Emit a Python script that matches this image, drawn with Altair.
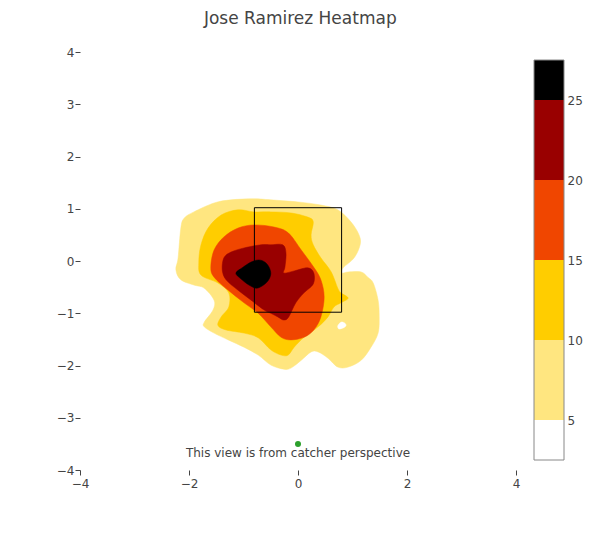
import altair as alt
import pandas as pd

FONT = "DejaVu Sans"
TXT = "#444444"

# ---- contour regions (x, y in plate coordinates) ----
x5 = [-1.23, -0.81, -0.50, 0.00, 0.42, 0.73, 0.97, 1.12, 1.14, 1.03, 0.83, 0.81, 0.92, 1.16, 1.28, 1.38,
      1.47, 1.49, 1.47, 1.34, 1.16, 0.92, 0.73, 0.55, 0.37, 0.24, 0.06, -0.13, -0.26, -0.50, -0.73, -0.99,
      -1.28, -1.54, -1.72, -1.72, -1.56, -1.54, -1.72, -1.91, -2.15, -2.24, -2.20, -2.15, -2.09, -1.91, -1.54]
y5 = [1.17, 1.19, 1.17, 1.13, 1.07, 0.98, 0.75, 0.50, 0.31, 0.06, -0.13, -0.23, -0.21, -0.21, -0.31, -0.42,
      -0.75, -1.07, -1.38, -1.65, -1.90, -2.03, -2.03, -1.86, -1.74, -1.74, -1.90, -2.05, -2.07, -1.99, -1.80, -1.65,
      -1.51, -1.38, -1.26, -1.17, -0.94, -0.75, -0.52, -0.46, -0.36, -0.17, 0.06, 0.63, 0.82, 0.94, 1.11]

x_hole = [0.73, 0.79, 0.86, 0.88, 0.83, 0.75]
y_hole = [-1.24, -1.17, -1.19, -1.24, -1.28, -1.30]

x10 = [-1.41, -1.10, -0.81, -0.50, -0.13, 0.18, 0.28, 0.24, 0.28, 0.42, 0.61, 0.73, 0.79, 0.92, 0.79,
       0.66, 0.55, 0.37, 0.11, -0.07, -0.18, -0.31, -0.50, -0.73, -0.99, -1.32, -1.47, -1.41, -1.27, -1.27,
       -1.47, -1.78, -1.82, -1.78, -1.65]
y10 = [0.88, 0.98, 0.94, 0.94, 0.92, 0.84, 0.75, 0.50, 0.31, 0.06, -0.21, -0.52, -0.61, -0.71, -0.80,
       -0.88, -1.07, -1.26, -1.46, -1.65, -1.80, -1.80, -1.70, -1.47, -1.38, -1.32, -1.23, -1.07, -0.88, -0.61,
       -0.42, -0.27, -0.02, 0.31, 0.63]

x15 = [-1.36, -1.10, -0.81, -0.44, -0.18, 0.06, 0.29, 0.42, 0.48, 0.42, 0.29, 0.11, -0.13, -0.31, -0.50,
       -0.73, -0.99, -1.28, -1.54, -1.60, -1.54]
y15 = [0.46, 0.63, 0.69, 0.65, 0.54, 0.21, -0.12, -0.36, -0.69, -1.07, -1.32, -1.46, -1.51, -1.46, -1.26,
       -1.00, -0.80, -0.56, -0.31, -0.12, 0.21]

x20 = [-1.36, -1.23, -0.99, -0.68, -0.50, -0.28, -0.22, -0.24, -0.26, -0.07, 0.18, 0.29, 0.28, 0.11, -0.04,
       -0.17, -0.26, -0.37, -0.50, -0.62, -0.86, -1.10, -1.32, -1.39]
y20 = [0.06, 0.17, 0.25, 0.31, 0.31, 0.31, 0.15, -0.12, -0.23, -0.19, -0.13, -0.23, -0.44, -0.61, -0.80,
       -1.07, -1.13, -1.07, -1.00, -0.94, -0.75, -0.56, -0.36, -0.17]

x25 = [-1.14, -1.01, -0.86, -0.72, -0.61, -0.53, -0.50, -0.55, -0.66, -0.77, -0.90, -1.05]
y25 = [-0.23, -0.12, -0.02, 0.02, -0.02, -0.12, -0.25, -0.38, -0.48, -0.52, -0.46, -0.34]

# strike zone
zone_x = [-0.8, 0.8]
zone_y = [-0.98, 1.02]

# home plate marker and note
marker_x = [0.0]
marker_y = [-3.5]
note_x = [0.0]
note_y = [-3.67]
note_text = ["This view is from catcher perspective"]

# axes ticks
x_ticks = [-4, -2, 0, 2, 4]
y_ticks = [-4, -3, -2, -1, 0, 1, 2, 3, 4]

# colorbar
cb_lo = [2.5, 5, 10, 15, 20, 25]
cb_hi = [5, 10, 15, 20, 25, 27.5]
cb_ticks = [5, 10, 15, 20, 25]
cb_bands = ["b0", "b1", "b2", "b3", "b4", "b5"]
palette = ["#ffffff", "#ffe680", "#ffcd00", "#f04600", "#990000", "#000000"]

# ---- build tables ----
def poly(xs, ys, name):
    return pd.DataFrame({"x": xs, "y": ys, "i": list(range(len(xs))), "poly": name})

contours = pd.concat([
    poly(x5, y5, "l5"), poly(x_hole, y_hole, "hole"), poly(x10, y10, "l10"),
    poly(x15, y15, "l15"), poly(x20, y20, "l20"), poly(x25, y25, "l25"),
], ignore_index=True)

xs = alt.Scale(domain=[-4, 4], nice=False, zero=False)
ys = alt.Scale(domain=[-4, 4], nice=False, zero=False)

x_axis = alt.Axis(values=x_ticks, grid=False, domain=False, ticks=True, tickSize=5, tickColor=TXT,
                  labelColor=TXT, labelFont=FONT, labelFontSize=12, labelPadding=3, labelFlush=False,
                  title=None)
y_axis = alt.Axis(values=y_ticks, grid=False, domain=False, ticks=True, tickSize=5, tickColor=TXT,
                  labelColor=TXT, labelFont=FONT, labelFontSize=12, labelPadding=1, labelFlush=False,
                  title=None)

base = alt.Chart(contours)
layers = []
for name, color in [("l5", palette[1]), ("hole", palette[0]), ("l10", palette[2]),
                    ("l15", palette[3]), ("l20", palette[4]), ("l25", palette[5])]:
    layers.append(
        base.transform_filter(alt.datum.poly == name)
        .mark_line(interpolate="cardinal-closed", fill=color, stroke=color, strokeWidth=0.5)
        .encode(x=alt.X("x:Q", scale=xs, axis=x_axis),
                y=alt.Y("y:Q", scale=ys, axis=y_axis),
                order="i:Q")
    )

zone_df = pd.DataFrame({"x0": [zone_x[0]], "x1": [zone_x[1]], "y0": [zone_y[0]], "y1": [zone_y[1]]})
zone = alt.Chart(zone_df).mark_rect(fillOpacity=0, stroke="black", strokeWidth=1).encode(
    x=alt.X("x0:Q", scale=xs, axis=x_axis), x2="x1:Q",
    y=alt.Y("y0:Q", scale=ys, axis=y_axis), y2="y1:Q")

dot = alt.Chart(pd.DataFrame({"x": marker_x, "y": marker_y})).mark_circle(
    size=36, color="#2ca02c", opacity=1).encode(
    x=alt.X("x:Q", scale=xs, axis=x_axis), y=alt.Y("y:Q", scale=ys, axis=y_axis))

note = alt.Chart(pd.DataFrame({"x": note_x, "y": note_y, "t": note_text})).mark_text(
    font=FONT, fontSize=12, color=TXT, align="center", baseline="middle").encode(
    x=alt.X("x:Q", scale=xs, axis=x_axis), y=alt.Y("y:Q", scale=ys, axis=y_axis), text="t:N")

main = alt.layer(*layers, zone, dot, note).properties(width=436, height=418)

cb_df = pd.DataFrame({"lo": cb_lo, "hi": cb_hi, "band": cb_bands})
cb_scale = alt.Scale(domain=[1.875, 28.0], nice=False, zero=False)
cb_axis = alt.Axis(orient="right", values=cb_ticks, grid=False, domain=False, ticks=False, tickSize=0,
                   labelColor=TXT, labelFont=FONT, labelFontSize=12, labelPadding=3, labelFlush=False,
                   title=None)
cb_rects = alt.Chart(cb_df).mark_rect().encode(
    y=alt.Y("lo:Q", scale=cb_scale, axis=cb_axis), y2="hi:Q",
    x=alt.value(0), x2=alt.value(30),
    color=alt.Color("band:N", scale=alt.Scale(domain=cb_bands, range=palette), legend=None))
cb_outline = alt.Chart(pd.DataFrame({"lo": [cb_lo[0]], "hi": [cb_hi[-1]]})).mark_rect(
    fillOpacity=0, stroke="#888888", strokeWidth=1).encode(
    y=alt.Y("lo:Q", scale=cb_scale, axis=cb_axis), y2="hi:Q",
    x=alt.value(0), x2=alt.value(30))
colorbar = alt.layer(cb_rects, cb_outline).properties(width=30, height=418)

chart = alt.hconcat(main, colorbar, spacing=18, bounds="flush").properties(
    title=alt.TitleParams("Jose Ramirez Heatmap", font=FONT, fontSize=17, color=TXT,
                          fontWeight="normal", anchor="middle", frame="bounds", offset=18, dx=-19),
    padding={"left": 48, "top": 2, "right": 5, "bottom": 5},
    background="white",
).configure_view(stroke="transparent", strokeOpacity=0, strokeWidth=0)

chart.save("out.html", embed_options={"renderer": "svg", "actions": False})
